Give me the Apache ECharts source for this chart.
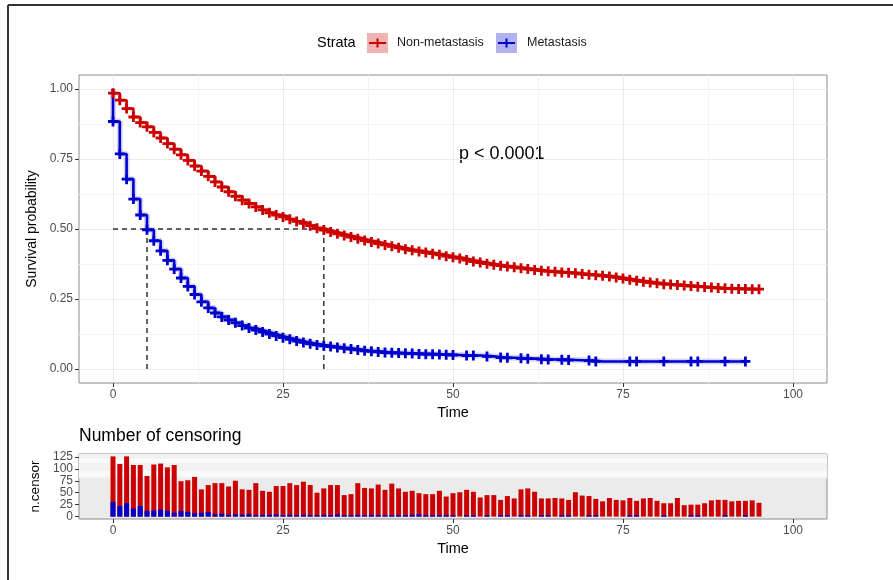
<!DOCTYPE html>
<html>
<head>
<meta charset="utf-8">
<title>Survival by metastasis</title>
<script src="https://cdn.jsdelivr.net/npm/echarts@6/dist/echarts.min.js"></script>
<style>
  html, body { margin: 0; padding: 0; background: #fff; }
  #chart { width: 893px; height: 580px; }
</style>
</head>
<body>
<div id="chart"></div>
<script>
// strata names
const strataNames = ['Non-metastasis', 'Metastasis'];
const strataColors = ['#CD0000', '#0000CD'];

// follow-up times (integer steps)
const timePoints = [0,1,2,3,4,5,6,7,8,9,10,11,12,13,14,15,16,17,18,19,20,21,22,23,24,25,26,27,28,29,
  30,31,32,33,34,35,36,37,38,39,40,41,42,43,44,45,46,47,48,49,50,51,52,53,54,55,56,57,58,59,
  60,61,62,63,64,65,66,67,68,69,70,71,72,73,74,75,76,77,78,79,80,81,82,83,84,85,86,87,88,89,
  90,91,92,93,94,95];

// survival probability, Non-metastasis (t = 0..95)
const survNonMet = [0.985,0.960,0.930,0.900,0.880,0.865,0.845,0.825,0.805,0.785,
  0.765,0.745,0.725,0.707,0.688,0.668,0.650,0.633,0.617,0.603,
  0.591,0.579,0.568,0.558,0.550,0.543,0.535,0.527,0.520,0.512,
  0.503,0.496,0.489,0.483,0.477,0.471,0.465,0.459,0.454,0.448,
  0.443,0.438,0.433,0.428,0.424,0.420,0.416,0.412,0.408,0.403,
  0.399,0.395,0.389,0.384,0.380,0.376,0.372,0.369,0.366,0.363,
  0.360,0.357,0.354,0.351,0.349,0.347,0.345,0.344,0.342,0.339,
  0.337,0.335,0.333,0.330,0.327,0.323,0.319,0.315,0.312,0.309,
  0.306,0.303,0.302,0.300,0.298,0.296,0.294,0.293,0.291,0.289,
  0.288,0.287,0.286,0.286,0.285,0.285];

// survival probability, Metastasis (t = 0..93)
const survMet = [0.884,0.768,0.678,0.607,0.550,0.497,0.458,0.422,0.388,0.357,
  0.325,0.295,0.266,0.240,0.218,0.200,0.186,0.175,0.165,0.155,
  0.146,0.139,0.132,0.125,0.118,0.112,0.106,0.100,0.095,0.090,
  0.086,0.083,0.080,0.077,0.074,0.071,0.068,0.065,0.063,0.061,
  0.059,0.058,0.057,0.056,0.055,0.054,0.053,0.053,0.052,0.051,
  0.050,0.049,0.048,0.048,0.047,0.045,0.043,0.041,0.040,0.039,
  0.038,0.037,0.036,0.035,0.034,0.034,0.033,0.032,0.031,0.030,
  0.030,0.027,0.027,0.027,0.027,0.027,0.027,0.027,0.027,0.027,
  0.027,0.027,0.027,0.027,0.027,0.027,0.027,0.027,0.027,0.027,
  0.027,0.027,0.027,0.027];

// number censored per time, Non-metastasis (t = 0..95)
const censorNonMet = [126,110,126,108,108,85,109,111,103,108,
  74,76,83,57,66,70,70,63,75,57,
  56,70,54,52,64,64,70,66,73,66,
  50,59,66,66,45,47,70,60,59,67,
  56,69,59,52,54,49,47,47,54,42,
  49,51,56,52,40,45,45,35,43,38,
  57,59,52,38,38,39,38,35,51,44,
  43,37,32,39,35,34,39,33,38,39,
  33,28,28,39,24,25,25,28,34,35,
  35,32,33,33,34,29];

// number censored per time, Metastasis (t = 0..93)
const censorMet = [31,22,28,17,22,12,13,15,12,8,
  12,10,7,8,10,5,6,4,5,4,
  5,3,4,4,5,3,4,3,4,3,
  3,4,3,5,3,3,4,3,4,3,
  3,3,3,3,4,5,3,3,3,3,
  3,0,3,3,0,3,0,3,3,0,
  3,3,0,3,3,0,3,3,0,0,
  3,3,0,0,0,0,3,3,0,0,
  0,3,0,0,0,3,3,0,0,0,
  3,0,0,3];

// median survival times (Metastasis, Non-metastasis)
const medianTimes = [5, 31];
const xTicks = [0, 25, 50, 75, 100];
const xMinor = [12.5, 37.5, 62.5, 87.5];
const yTicks = [0, 0.25, 0.5, 0.75, 1];
const yMinor = [0.125, 0.375, 0.625, 0.875];
const censorTicks = [0, 25, 50, 75, 100, 125];
const pText = 'p < 0.0001';

const FONT = 'Liberation Sans, Arial, sans-serif';
const chart = echarts.init(document.getElementById('chart'));

function kmData(surv) {
  const d = [[timePoints[0], 1]];
  surv.forEach((s, i) => d.push([timePoints[i], s]));
  return d;
}
function censorMarks(surv, counts) {
  const d = [];
  counts.forEach((n, i) => { if (n > 0) d.push([timePoints[i], surv[i]]); });
  return d;
}
function barData(counts) {
  return counts.map((n, i) => [timePoints[i], n]);
}

const plusSymbol = 'path://M3.6,0H6.4V3.6H10V6.4H6.4V10H3.6V6.4H0V3.6H3.6Z';
const survSets = [survNonMet, survMet];
const censorSets = [censorNonMet, censorMet];

const series = [];
// light bands in the censoring panel
series.push({
  type: 'line', xAxisIndex: 1, yAxisIndex: 1, data: [], silent: true,
  markArea: {
    silent: true,
    data: [
      [{ yAxis: 80, itemStyle: { color: '#F2F2F2' } }, { yAxis: 131 }],
      [{ yAxis: 84, itemStyle: { color: '#FAFAFA' } }, { yAxis: 96 }],
      [{ yAxis: 112, itemStyle: { color: '#FAFAFA' } }, { yAxis: 121 }]
    ]
  }
});
// median lines
series.push({
  type: 'line', xAxisIndex: 0, yAxisIndex: 0, silent: true, symbol: 'none',
  lineStyle: { color: '#333', width: 1.5, type: [5, 4] },
  data: [[0, 0.5], [Math.max(...medianTimes), 0.5]], z: 1
});
medianTimes.forEach(m => {
  series.push({
    type: 'line', xAxisIndex: 0, yAxisIndex: 0, silent: true, symbol: 'none',
    lineStyle: { color: '#333', width: 1.5, type: [5, 4] },
    data: [[m, 0], [m, 0.5]], z: 1
  });
});

strataNames.forEach((name, k) => {
  const col = strataColors[k];
  const surv = survSets[k];
  // faint confidence halo
  series.push({
    type: 'line', xAxisIndex: 0, yAxisIndex: 0, step: 'end', symbol: 'none', silent: true,
    lineStyle: { color: k === 0 ? 'rgba(205,0,0,0.12)' : 'rgba(0,0,205,0.16)', width: k === 0 ? 4 : 6 },
    data: kmData(surv), z: 2
  });
  series.push({
    name: name, type: 'line', xAxisIndex: 0, yAxisIndex: 0, step: 'end', symbol: 'none',
    lineStyle: { color: col, width: 2.6 }, itemStyle: { color: col },
    data: kmData(surv), z: 3
  });
  series.push({
    name: name, type: 'scatter', xAxisIndex: 0, yAxisIndex: 0,
    symbol: plusSymbol, symbolSize: 10, itemStyle: { color: col, opacity: 1 },
    data: censorMarks(surv, censorSets[k]), z: 4
  });
  series.push({
    name: name, type: 'bar', xAxisIndex: 1, yAxisIndex: 1,
    barWidth: 5, barGap: '-100%', itemStyle: { color: col },
    data: barData(censorSets[k]), z: 3 + k
  });
});

const axisLabelStyle = { color: '#4D4D4D', fontSize: 12, fontFamily: FONT };
const tickStyle = { show: true, length: 4, lineStyle: { color: '#333', width: 1 } };
const nameStyle = { color: '#000', fontSize: 14.5, fontFamily: FONT };
const noLine = { show: false, onZero: false };

// helper axis that only draws gridlines at the given values
function gridOnlyAxis(grid, min, max, values, color) {
  return {
    type: 'value', gridIndex: grid, min: min, max: max,
    axisLine: noLine, axisLabel: { show: false, customValues: values },
    axisTick: { show: false, customValues: values },
    splitLine: { show: true, lineStyle: { color: color, width: 1 } }
  };
}

const option = {
  animation: false,
  backgroundColor: '#fff',
  textStyle: { fontFamily: FONT },
  grid: [
    { left: 79, top: 75, width: 748, height: 308, show: true, backgroundColor: '#fff', borderColor: '#8C8C8C', borderWidth: 1 },
    { left: 79, top: 454, width: 748, height: 65, show: true, backgroundColor: '#EBEBEB', borderColor: '#8C8C8C', borderWidth: 1 }
  ],
  xAxis: [
    {
      type: 'value', gridIndex: 0, min: -5, max: 105, position: 'bottom',
      axisLine: noLine,
      splitLine: { show: true, lineStyle: { color: '#EBEBEB', width: 1 } },
      axisTick: Object.assign({ customValues: xTicks }, tickStyle),
      axisLabel: Object.assign({ customValues: xTicks, margin: 6 }, axisLabelStyle),
      name: 'Time', nameLocation: 'middle', nameGap: 22, nameTextStyle: nameStyle
    },
    {
      type: 'value', gridIndex: 1, min: -5, max: 105, position: 'bottom',
      axisLine: noLine, splitLine: { show: false },
      axisTick: Object.assign({ customValues: xTicks }, tickStyle),
      axisLabel: Object.assign({ customValues: xTicks, margin: 6 }, axisLabelStyle),
      name: 'Time', nameLocation: 'middle', nameGap: 22, nameTextStyle: nameStyle
    },
    Object.assign(gridOnlyAxis(0, -5, 105, xMinor, '#F4F4F4'), { position: 'top' })
  ],
  yAxis: [
    {
      type: 'value', gridIndex: 0, min: -0.05, max: 1.05, position: 'left',
      axisLine: noLine,
      splitLine: { show: true, lineStyle: { color: '#EBEBEB', width: 1 } },
      axisTick: Object.assign({ customValues: yTicks }, tickStyle),
      axisLabel: Object.assign({ customValues: yTicks, margin: 6, formatter: v => v.toFixed(2) }, axisLabelStyle),
      name: 'Survival probability', nameLocation: 'middle', nameGap: 35,
      nameTextStyle: { color: '#000', fontSize: 14, fontFamily: FONT }
    },
    {
      type: 'value', gridIndex: 1, min: -5, max: 131, position: 'left',
      axisLine: noLine, splitLine: { show: false },
      axisTick: Object.assign({ customValues: censorTicks }, tickStyle),
      axisLabel: Object.assign({ customValues: censorTicks, margin: 6 }, axisLabelStyle),
      name: 'n.censor', nameLocation: 'middle', nameGap: 35,
      nameTextStyle: { color: '#000', fontSize: 13.5, fontFamily: FONT }
    },
    Object.assign(gridOnlyAxis(0, -0.05, 1.05, yMinor, '#F4F4F4'), { position: 'right' })
  ],
  graphic: [
    // outer frame (top and left edges)
    { type: 'line', shape: { x1: 8, y1: 5, x2: 893, y2: 5 }, style: { stroke: '#333', lineWidth: 2 } },
    { type: 'line', shape: { x1: 8, y1: 5, x2: 8, y2: 580 }, style: { stroke: '#333', lineWidth: 2 } },
    // legend
    { type: 'text', left: 317, top: 35, style: { text: 'Strata', font: '14.5px ' + FONT, fill: '#000' } },
    { type: 'rect', shape: { x: 367, y: 33, width: 21, height: 20 }, style: { fill: 'rgba(205,0,0,0.3)' } },
    { type: 'line', shape: { x1: 369, y1: 43, x2: 386, y2: 43 }, style: { stroke: strataColors[0], lineWidth: 2 } },
    { type: 'line', shape: { x1: 377.5, y1: 38.5, x2: 377.5, y2: 47.5 }, style: { stroke: strataColors[0], lineWidth: 2 } },
    { type: 'text', left: 397, top: 36, style: { text: strataNames[0], font: '12.5px ' + FONT, fill: '#1a1a1a' } },
    { type: 'rect', shape: { x: 496, y: 33, width: 21, height: 20 }, style: { fill: 'rgba(0,0,205,0.3)' } },
    { type: 'line', shape: { x1: 498, y1: 43, x2: 515, y2: 43 }, style: { stroke: strataColors[1], lineWidth: 2 } },
    { type: 'line', shape: { x1: 506.5, y1: 38.5, x2: 506.5, y2: 47.5 }, style: { stroke: strataColors[1], lineWidth: 2 } },
    { type: 'text', left: 527, top: 36, style: { text: strataNames[1], font: '12.5px ' + FONT, fill: '#1a1a1a' } },
    // p-value
    { type: 'text', left: 459, top: 145, style: { text: pText, font: '18px ' + FONT, fill: '#000' } },
    // censoring panel title
    { type: 'text', left: 79, top: 427, style: { text: 'Number of censoring', font: '17.5px ' + FONT, fill: '#000' } }
  ],
  series: series
};

chart.setOption(option);
</script>
</body>
</html>
